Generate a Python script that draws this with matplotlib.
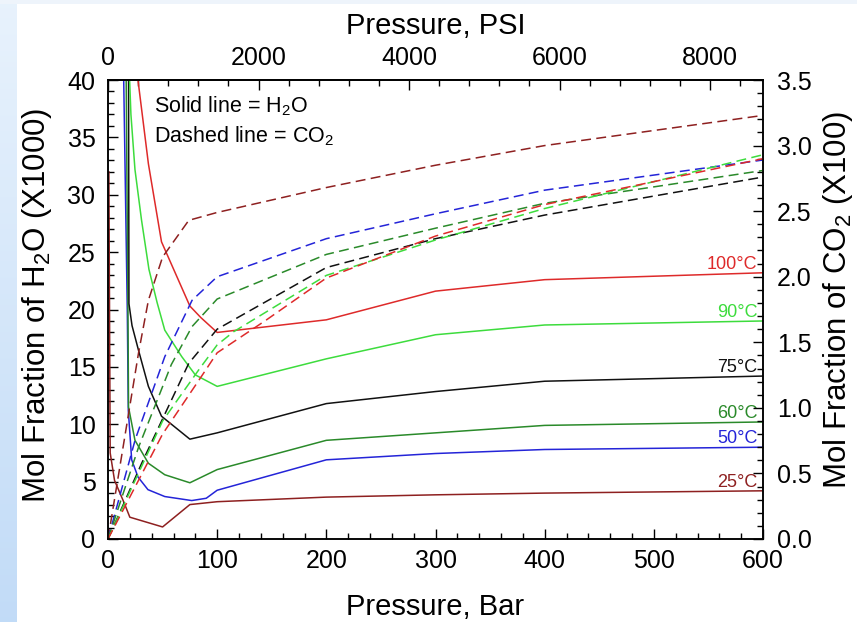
#!/usr/bin/env python3
# -*- coding: utf-8 -*-

import matplotlib
matplotlib.use('Agg')
import matplotlib.pyplot as plt
import numpy as np
from matplotlib.ticker import MultipleLocator, FixedLocator
from matplotlib.patches import Rectangle

# H2O モル分率 (X1000), 実線, 左軸 / 圧力 [bar]
h2o_25_p = [0.8, 2, 6, 15, 20, 50, 75, 100, 200, 300, 400, 600]
h2o_25 = [32, 7.5, 5.1, 3.1, 1.9, 1.05, 3.0, 3.25, 3.65, 3.85, 4.0, 4.2]
h2o_50_p = [14, 17.7, 18.6, 21.7, 27.5, 36.6, 52, 76.7, 90, 100, 200, 300, 400, 600]
h2o_50 = [42.4, 19.7, 11.2, 6.9, 5.4, 4.3, 3.7, 3.35, 3.55, 4.25, 6.9, 7.45, 7.8, 8.0]
h2o_60_p = [16.5, 18.3, 18.8, 24.7, 37, 52, 75, 100, 200, 300, 400, 600]
h2o_60 = [42, 19.7, 11.5, 8.6, 6.6, 5.6, 4.9, 6.05, 8.6, 9.25, 9.9, 10.2]
h2o_75_p = [18.8, 19.2, 22, 27.8, 37, 49, 75, 100, 200, 300, 400, 600]
h2o_75 = [42, 20.5, 18.6, 16.5, 13.3, 10.7, 8.7, 9.25, 11.8, 12.85, 13.75, 14.2]
h2o_90_p = [19, 21, 24.7, 30.7, 37.5, 45, 52, 67.5, 80, 100, 200, 300, 400, 600]
h2o_90 = [42, 37, 32.2, 27.8, 23.5, 20.6, 18.2, 15.9, 14.3, 13.3, 15.7, 17.8, 18.65, 19.0]
h2o_100_p = [26.8, 37, 49, 75, 85, 100, 200, 300, 400, 600]
h2o_100 = [40.5, 32.7, 25.9, 20.3, 19.3, 18.0, 19.1, 21.6, 22.6, 23.2]

# CO2 モル分率 (X100), 破線, 右軸
co2_25_p = [0, 28, 37, 50, 74, 100, 200, 300, 400, 600]
co2_25 = [0, 1.42, 1.82, 2.15, 2.43, 2.49, 2.68, 2.85, 3.0, 3.23]
co2_50_p = [0, 25, 52, 77, 100, 200, 300, 400, 600]
co2_50 = [0, 0.76, 1.39, 1.82, 2.0, 2.29, 2.48, 2.66, 2.89]
co2_60_p = [0, 28, 58, 77, 100, 200, 300, 400, 600]
co2_60 = [0, 0.7, 1.33, 1.62, 1.83, 2.17, 2.37, 2.56, 2.81]
co2_75_p = [0, 31, 74, 100, 200, 300, 400, 600]
co2_75 = [0, 0.58, 1.34, 1.6, 2.07, 2.29, 2.47, 2.76]
co2_90_p = [0, 50, 84, 100, 115, 200, 300, 400, 600]
co2_90 = [0, 0.9, 1.3, 1.48, 1.58, 2.01, 2.28, 2.52, 2.93]
co2_100_p = [0, 50, 84, 100, 145, 200, 300, 400, 600]
co2_100 = [0, 0.8, 1.22, 1.42, 1.67, 1.99, 2.31, 2.55, 2.90]

temps = ['25°C', '50°C', '60°C', '75°C', '90°C', '100°C']
colors = ['#8e2020', '#2424d8', '#2a8a2a', '#111111', '#3ddc3d', '#de2a2a']

# 上軸の目盛り (PSI)
psi_ticks = [0, 2000, 4000, 6000, 8000]

BAR2PSI = 14.5038

plt.rcParams['font.family'] = ['Liberation Sans', 'DejaVu Sans']
plt.rcParams['mathtext.fontset'] = 'custom'
plt.rcParams['mathtext.rm'] = 'Liberation Sans'
plt.rcParams['mathtext.it'] = 'Liberation Sans:italic'


def main():
    fig = plt.figure(figsize=(8.57, 6.22), dpi=100)

    # 背景 (左端の青いグラデーション)
    bg = fig.add_axes([0, 0, 1, 1], zorder=-10)
    bg.set_xlim(0, 857)
    bg.set_ylim(622, 0)
    bg.axis('off')
    grad = np.linspace(0, 1, 256).reshape(-1, 1)
    c_top = np.array([0.91, 0.95, 0.99])
    c_bot = np.array([0.76, 0.86, 0.97])
    img = c_top + grad[:, :, None] * (c_bot - c_top)
    bg.imshow(img, extent=[0, 17, 622, 0], aspect='auto')
    bg.add_patch(Rectangle((0, 0), 857, 4, color='#eef4fb', lw=0))

    ax = fig.add_axes([108 / 857, 1 - 539 / 622, 655 / 857, 459 / 622])
    ax2 = ax.twinx()

    h2o = [(h2o_25_p, h2o_25), (h2o_50_p, h2o_50), (h2o_60_p, h2o_60),
           (h2o_75_p, h2o_75), (h2o_90_p, h2o_90), (h2o_100_p, h2o_100)]
    co2 = [(co2_25_p, co2_25), (co2_50_p, co2_50), (co2_60_p, co2_60),
           (co2_75_p, co2_75), (co2_90_p, co2_90), (co2_100_p, co2_100)]

    for (p, v), (pc, vc), t, c in zip(h2o, co2, temps, colors):
        ax.plot(p, v, color=c, lw=1.1)
        ax2.plot(pc, vc, color=c, lw=1.1, dashes=(6.5, 3.5))
        ax.annotate(t, xy=(p[-1], v[-1]), xytext=(-4, 3), textcoords='offset points',
                    ha='right', va='baseline', color=c, fontsize=13)

    ax.set_xlim(0, 600)
    ax.set_ylim(0, 40)
    ax2.set_ylim(0, 3.5)

    ax.xaxis.set_major_locator(MultipleLocator(100))
    ax.xaxis.set_minor_locator(MultipleLocator(20))
    ax.yaxis.set_major_locator(MultipleLocator(5))
    ax.yaxis.set_minor_locator(MultipleLocator(1))
    ax2.yaxis.set_major_locator(MultipleLocator(0.5))
    ax2.yaxis.set_minor_locator(MultipleLocator(0.1))
    ax2.yaxis.set_major_formatter('{x:.1f}')

    # 上軸 (PSI)
    secax = ax.secondary_xaxis('top', functions=(lambda b: b * BAR2PSI, lambda s: s / BAR2PSI))
    secax.xaxis.set_major_locator(FixedLocator(psi_ticks))
    secax.xaxis.set_minor_locator(FixedLocator(np.arange(0, 8700, 400)))

    for a in (ax, ax2, secax):
        a.tick_params(which='both', direction='in', labelsize=18, width=1)
        a.tick_params(which='major', length=7)
        a.tick_params(which='minor', length=4)
    ax.tick_params(axis='x', pad=7)
    secax.tick_params(axis='x', pad=7)
    ax.tick_params(axis='y', pad=9)
    ax2.tick_params(axis='y', pad=10)
    for a in (ax, ax2):
        for s in a.spines.values():
            s.set_linewidth(1.1)
    secax.spines['top'].set_linewidth(1.1)

    ax.set_xlabel('Pressure, Bar', fontsize=21)
    secax.set_xlabel('Pressure, PSI', fontsize=21, labelpad=9)
    ax.set_ylabel('Mol Fraction of H$_\\mathregular{2}$O (X1000)', fontsize=22.5)
    ax2.set_ylabel('Mol Fraction of CO$_\\mathregular{2}$ (X100)', fontsize=22.5)
    ax.xaxis.set_label_coords(0.5, -0.118)
    ax.yaxis.set_label_coords(-0.082, 0.51)
    ax2.yaxis.set_label_coords(1.088, 0.52)

    ax.text(0.07, 0.93, 'Solid line = H$_\\mathregular{2}$O', transform=ax.transAxes,
            fontsize=15.5, va='baseline')
    ax.text(0.07, 0.865, 'Dashed line = CO$_\\mathregular{2}$', transform=ax.transAxes,
            fontsize=15.5, va='baseline')

    fig.savefig('out.png', dpi=100)
    plt.close(fig)


if __name__ == '__main__':
    main()
